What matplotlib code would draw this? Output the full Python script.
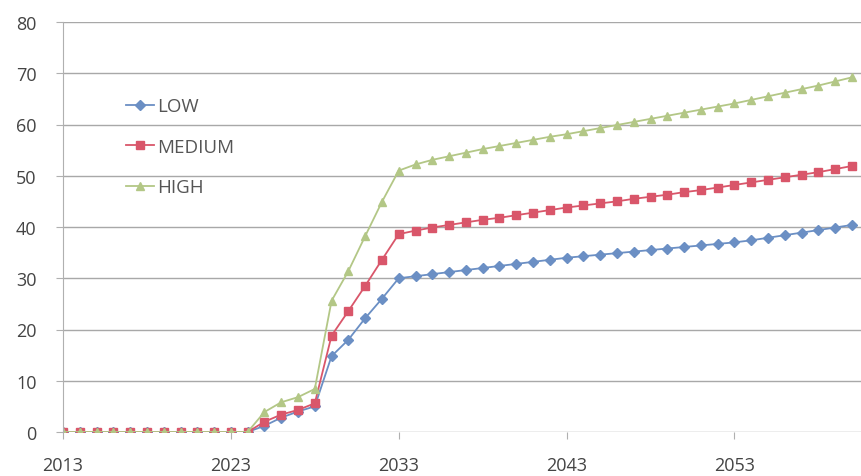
import numpy as np
import matplotlib
matplotlib.use("Agg")
import matplotlib.pyplot as plt

plt.rcParams['font.family'] = ['Open Sans', 'DejaVu Sans']

years = list(range(2013, 2061))

low = [0] * 12 + [1.2, 2.8, 4.0, 5.0, 14.8, 18.0, 22.2, 26.0, 30.0,
                  30.4, 30.8, 31.2, 31.6, 32.0, 32.4, 32.8, 33.2, 33.6, 34.0,
                  34.3, 34.6, 34.9, 35.2, 35.5, 35.8, 36.1, 36.4, 36.7, 37.0,
                  37.4, 37.9, 38.4, 38.9, 39.4, 39.9, 40.4]
medium = [0] * 12 + [2.0, 3.4, 4.3, 5.6, 18.8, 23.6, 28.5, 33.6, 38.6,
                     39.3, 39.9, 40.4, 40.9, 41.4, 41.8, 42.3, 42.8, 43.3, 43.8,
                     44.2, 44.6, 45.0, 45.5, 45.9, 46.3, 46.8, 47.2, 47.7, 48.2,
                     48.7, 49.2, 49.7, 50.2, 50.7, 51.3, 51.9]
high = [0] * 12 + [3.9, 5.8, 6.8, 8.4, 25.6, 31.4, 38.2, 44.9, 51.0,
                   52.2, 53.1, 53.8, 54.5, 55.2, 55.8, 56.4, 57.0, 57.6, 58.1,
                   58.7, 59.3, 59.9, 60.5, 61.1, 61.7, 62.3, 62.9, 63.5, 64.1,
                   64.8, 65.5, 66.2, 66.9, 67.6, 68.4, 69.2]

fig = plt.figure(figsize=(8.62, 4.77), dpi=100)
ax = fig.add_axes([63 / 862, 44 / 477, 1 - 63 / 862, 410 / 477])

ax.plot(years, low, color='#6b8fc4', marker='D', markersize=5, lw=1.3, label='LOW')
ax.plot(years, medium, color='#d9566a', marker='s', markersize=6, lw=1.3, label='MEDIUM')
ax.plot(years, high, color='#b3c786', marker='^', markersize=6, lw=1.3, label='HIGH')

ax.set_xlim(2013, 2060.6)
ax.set_ylim(0, 80)
ax.set_xticks([2013, 2023, 2033, 2043, 2053])
ax.set_yticks(range(0, 81, 10))
ax.yaxis.grid(True, color='#a8a8a8', lw=1)
ax.set_axisbelow(True)

for s in ['top', 'right', 'bottom']:
    ax.spines[s].set_visible(False)
ax.spines['left'].set_color('#b0b0b0')
ax.tick_params(axis='y', length=5, color='#b0b0b0', labelsize=13, labelcolor='#444444', pad=14)
ax.tick_params(axis='x', length=5, color='#b0b0b0', labelsize=13, labelcolor='#444444', pad=12.5)

ax.legend(loc='upper left', bbox_to_anchor=(0.069, 0.835), borderaxespad=0, frameon=False,
          fontsize=13.5, labelspacing=1.2, handlelength=1.5, handletextpad=0.2,
          labelcolor='#555555')

fig.savefig('out.png', dpi=100)
